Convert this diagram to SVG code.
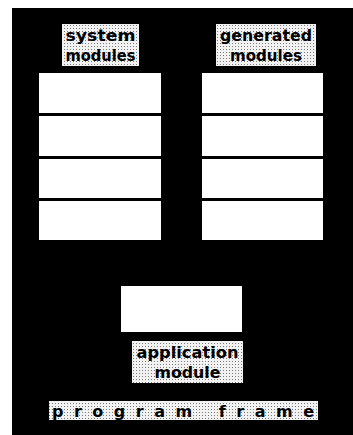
<svg xmlns="http://www.w3.org/2000/svg" width="353" height="435" viewBox="0 0 353 435">
<style>
.box{fill:#ffffff;}
.lbl{font-family:"DejaVu Sans","Liberation Sans",sans-serif;font-weight:bold;font-size:15px;fill:#000;text-anchor:middle;}
.dot{fill:url(#dots);}
</style>
<defs>
<pattern id="dots" width="3" height="3" patternUnits="userSpaceOnUse">
<rect width="3" height="3" fill="#f2f2f2"/>
<rect x="1" y="1" width="1" height="1" fill="#7a7a7a"/>
</pattern>
</defs>
<rect x="0" y="0" width="353" height="435" fill="#ffffff"/>
<rect id="frame" x="12" y="8" width="341" height="427" fill="#000000"/>
<g id="system-modules">
<rect class="dot" x="62" y="24" width="77" height="42"/>
<text class="lbl" x="100.5" y="41" textLength="70" lengthAdjust="spacingAndGlyphs">system</text>
<text class="lbl" x="100.5" y="61" textLength="70" lengthAdjust="spacingAndGlyphs">modules</text>
<rect class="box" x="39" y="73" width="122" height="40"/>
<rect class="box" x="39" y="116" width="122" height="40"/>
<rect class="box" x="39" y="159" width="122" height="39"/>
<rect class="box" x="39" y="201" width="122" height="39"/>
</g>
<g id="generated-modules">
<rect class="dot" x="216" y="24" width="100" height="42"/>
<text class="lbl" x="266" y="41" textLength="92" lengthAdjust="spacingAndGlyphs">generated</text>
<text class="lbl" x="266" y="61" textLength="72" lengthAdjust="spacingAndGlyphs">modules</text>
<rect class="box" x="202" y="73" width="121" height="40"/>
<rect class="box" x="202" y="116" width="121" height="40"/>
<rect class="box" x="202" y="159" width="121" height="39"/>
<rect class="box" x="202" y="201" width="121" height="39"/>
</g>
<g id="application-module">
<rect class="box" x="121" y="286" width="121" height="46"/>
<rect class="dot" x="132" y="341" width="111" height="42"/>
<text class="lbl" x="187.5" y="358" textLength="102" lengthAdjust="spacingAndGlyphs">application</text>
<text class="lbl" x="187.5" y="378" textLength="66" lengthAdjust="spacingAndGlyphs">module</text>
</g>
<g id="program-frame">
<rect class="dot" x="49" y="401" width="269" height="19"/>
<text class="lbl" x="52" y="417" style="text-anchor:start;font-size:16px" textLength="262" lengthAdjust="spacing">program frame</text>
</g>
<g id="connectors"/>
</svg>
